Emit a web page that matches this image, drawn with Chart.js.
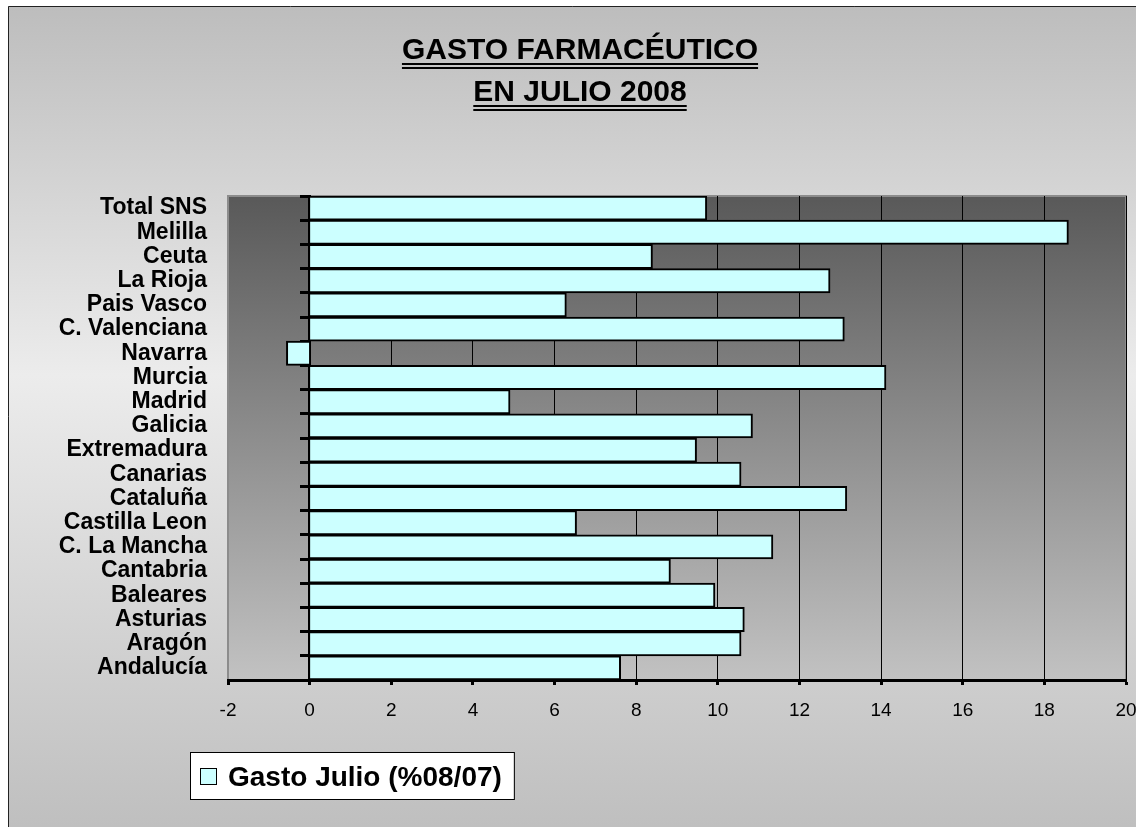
<!DOCTYPE html>
<html>
<head>
<meta charset="utf-8">
<title>Gasto farmacéutico julio 2008</title>
<script src="https://cdn.jsdelivr.net/npm/chart.js@4.4.1/dist/chart.umd.min.js"></script>
<style>
  html, body { margin: 0; padding: 0; background: #fff; }
  canvas { display: block; }
</style>
</head>
<body>
<canvas id="chart" width="1136" height="827"></canvas>
<script>
// chart data, top row first
const titleLines = ["GASTO FARMACÉUTICO", "EN JULIO 2008"];
const seriesLabel = "Gasto Julio (%08/07)";
const regions = [
  "Total SNS", "Melilla", "Ceuta", "La Rioja", "Pais Vasco", "C. Valenciana",
  "Navarra", "Murcia", "Madrid", "Galicia", "Extremadura", "Canarias",
  "Cataluña", "Castilla Leon", "C. La Mancha", "Cantabria", "Baleares",
  "Asturias", "Aragón", "Andalucía"
];
const gastoJulio = [
  9.73, 18.59, 8.40, 12.75, 6.29, 13.10,
  -0.57, 14.12, 4.91, 10.85, 9.48, 10.57,
  13.16, 6.54, 11.35, 8.84, 9.93,
  10.65, 10.57, 7.62
];
const xMin = -2;
const xMax = 20;
const xStep = 2;

const FONT = '"Liberation Sans", Arial, sans-serif';

// outer panel + plot area gradients
const backgroundPlugin = {
  id: "backgrounds",
  beforeDraw(chart) {
    const { ctx, chartArea: a, width, height } = chart;
    ctx.save();
    ctx.fillStyle = "#fff";
    ctx.fillRect(0, 0, width, height);

    const g = ctx.createLinearGradient(0, 6, 0, height);
    g.addColorStop(0, "#bdbdbd");
    g.addColorStop(0.45, "#ececec");
    g.addColorStop(1, "#bfbfbf");
    ctx.fillStyle = g;
    ctx.fillRect(8, 6, width - 8, height - 6);

    ctx.strokeStyle = "#222";
    ctx.lineWidth = 1;
    ctx.beginPath();
    ctx.moveTo(8.5, height);
    ctx.lineTo(8.5, 6.5);
    ctx.lineTo(width, 6.5);
    ctx.stroke();

    const p = ctx.createLinearGradient(0, a.top, 0, a.bottom);
    p.addColorStop(0, "#595959");
    p.addColorStop(1, "#c2c2c2");
    ctx.fillStyle = p;
    ctx.fillRect(a.left, a.top, a.right - a.left, a.bottom - a.top);
    ctx.strokeStyle = "#8c8c8c";
    ctx.lineWidth = 2;
    ctx.strokeRect(a.left, a.top, a.right - a.left, a.bottom - a.top);
    ctx.restore();
  }
};

// title with double underline
const titlePlugin = {
  id: "underlinedTitle",
  afterDraw(chart) {
    const { ctx } = chart;
    ctx.save();
    ctx.font = "bold 30px " + FONT;
    ctx.fillStyle = "#000";
    ctx.textAlign = "center";
    ctx.textBaseline = "alphabetic";
    const cx = 580;
    titleLines.forEach((line, i) => {
      const base = 59 + i * 42;
      ctx.fillText(line, cx, base);
      const w = ctx.measureText(line).width;
      ctx.fillRect(cx - w / 2, base + 4, w, 2);
      ctx.fillRect(cx - w / 2, base + 8, w, 2);
    });
    ctx.restore();
  }
};

// boxed legend under the x axis
const legendPlugin = {
  id: "boxedLegend",
  afterDraw(chart) {
    const ds = chart.data.datasets[0];
    const { ctx } = chart;
    ctx.save();
    ctx.font = "bold 28px " + FONT;
    const tw = ctx.measureText(ds.label).width;
    const left = 190, top = 752, h = 47;
    const w = 38 + tw + 12;
    ctx.fillStyle = "#fff";
    ctx.fillRect(left, top, w, h);
    ctx.strokeStyle = "#000";
    ctx.lineWidth = 1;
    ctx.strokeRect(left + 0.5, top + 0.5, w, h);
    ctx.fillStyle = ds.backgroundColor;
    ctx.fillRect(200, 768, 17, 17);
    ctx.strokeRect(200.5, 768.5, 16, 16);
    ctx.fillStyle = "#000";
    ctx.fillText(ds.label, 228, 786);
    ctx.restore();
  }
};

new Chart(document.getElementById("chart"), {
  type: "bar",
  data: {
    labels: regions,
    datasets: [{
      label: seriesLabel,
      data: gastoJulio,
      backgroundColor: "#ccffff",
      borderColor: "#000",
      borderWidth: 2,
      barPercentage: 1,
      categoryPercentage: 1,
      yAxisID: "y"
    }]
  },
  options: {
    indexAxis: "y",
    responsive: false,
    animation: false,
    devicePixelRatio: 1,
    layout: { padding: { top: 196, right: 10, bottom: 107, left: 0 } },
    plugins: {
      legend: { display: false },
      title: { display: false },
      tooltip: { enabled: false }
    },
    scales: {
      x: {
        type: "linear",
        min: xMin,
        max: xMax,
        ticks: { stepSize: xStep, color: "#000", font: { family: FONT, size: 19 }, padding: 14 },
        grid: {
          color: (c) => (c.tick && c.tick.value === xMin ? "rgba(0,0,0,0)" : "#000"),
          lineWidth: 1,
          tickColor: "#000",
          tickLength: 5,
          tickWidth: 3
        },
        border: { color: "#000", width: 3 },
        afterFit(s) {
          s.height = 40;
          s.paddingLeft = 0;
          s.paddingRight = 0;
        }
      },
      y: {
        type: "category",
        position: "left",
        grid: { display: false, drawTicks: false },
        border: { display: false },
        ticks: {
          autoSkip: false,
          color: "#000",
          font: { family: FONT, size: 23, weight: "bold" },
          padding: 21
        },
        afterFit(s) {
          s.width = 228;
          s.paddingTop = 0;
          s.paddingBottom = 0;
        }
      },
      // axis line at x = 0 with tick marks between categories
      axis0: {
        type: "category",
        axis: "y",
        position: { x: 0 },
        offset: true,
        ticks: { display: false },
        grid: {
          offset: true,
          drawOnChartArea: false,
          drawTicks: true,
          tickLength: 8,
          tickWidth: 3,
          tickColor: "#000"
        },
        border: { color: "#000", width: 3 }
      }
    }
  },
  plugins: [backgroundPlugin, titlePlugin, legendPlugin]
});
</script>
</body>
</html>
